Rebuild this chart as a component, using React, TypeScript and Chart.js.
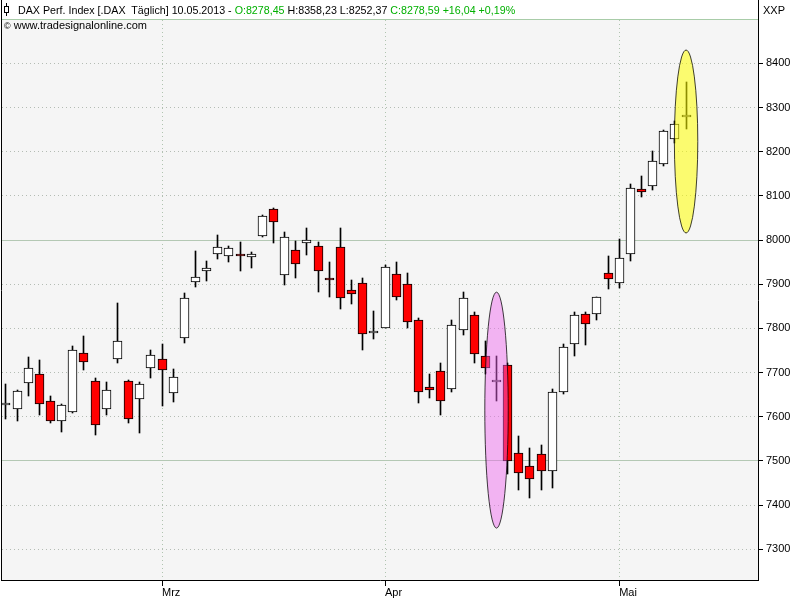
import React, { useEffect, useRef } from 'react';
import { Chart, registerables } from 'chart.js';

Chart.register(...registerables);

const dates = [
  '2013-02-11', '2013-02-12', '2013-02-13', '2013-02-14', '2013-02-15',
  '2013-02-18', '2013-02-19', '2013-02-20', '2013-02-21', '2013-02-22',
  '2013-02-25', '2013-02-26', '2013-02-27', '2013-02-28',
  '2013-03-01', '2013-03-04', '2013-03-05', '2013-03-06', '2013-03-07', '2013-03-08',
  '2013-03-11', '2013-03-12', '2013-03-13', '2013-03-14', '2013-03-15',
  '2013-03-18', '2013-03-19', '2013-03-20', '2013-03-21', '2013-03-22',
  '2013-03-25', '2013-03-26', '2013-03-27', '2013-03-28',
  '2013-04-02', '2013-04-03', '2013-04-04', '2013-04-05',
  '2013-04-08', '2013-04-09', '2013-04-10', '2013-04-11', '2013-04-12',
  '2013-04-15', '2013-04-16', '2013-04-17', '2013-04-18', '2013-04-19',
  '2013-04-22', '2013-04-23', '2013-04-24', '2013-04-25', '2013-04-26',
  '2013-04-29', '2013-04-30',
  '2013-05-02', '2013-05-03', '2013-05-06', '2013-05-07', '2013-05-08', '2013-05-09', '2013-05-10',
];

const opens = [
  7626, 7617, 7676, 7696, 7635, 7590, 7611, 7744, 7680, 7617, 7730, 7680, 7640, 7710,
  7731, 7653, 7778, 7904, 7931, 7968, 7963, 7968, 7961, 8008, 8070, 7920, 7977, 7993, 7986, 7913,
  7984, 7886, 7902, 7789,
  7802, 7922, 7900, 7818, 7667, 7703, 7662, 7796, 7830, 7737, 7679, 7716, 7517, 7488, 7515, 7477,
  7655, 7764, 7832, 7832, 7925,
  7902, 7968, 8115, 8122, 8171, 8228, 8278.45,
];
const highs = [
  7674, 7661, 7735, 7728, 7647, 7629, 7760, 7783, 7687, 7679, 7857, 7683, 7678, 7751,
  7765, 7708, 7880, 7975, 7952, 8011, 7986, 7996, 7974, 8057, 8072, 8018, 7998, 8027, 7996, 7950,
  8027, 7910, 7914, 7839,
  7943, 7951, 7925, 7823, 7697, 7722, 7818, 7882, 7838, 7771, 7737, 7722, 7556, 7529, 7536, 7663,
  7765, 7836, 7836, 7872, 7964,
  8002, 8127, 8144, 8201, 8249, 8270, 8358.23,
];
const lows = [
  7596, 7591, 7648, 7604, 7586, 7566, 7609, 7706, 7559, 7604, 7722, 7586, 7564, 7688,
  7624, 7634, 7768, 7894, 7908, 7958, 7951, 7931, 7937, 8006, 7993, 7898, 7915, 7967, 7883, 7872,
  7845, 7856, 7752, 7775,
  7800, 7864, 7800, 7630, 7643, 7604, 7657, 7784, 7722, 7696, 7636, 7470, 7434, 7416, 7435, 7439,
  7652, 7738, 7763, 7820, 7890,
  7892, 7953, 8097, 8113, 8168, 8219, 8252.37,
];
const closes = [
  7631, 7658, 7710, 7628, 7591, 7626, 7750, 7725, 7581, 7660, 7771, 7594, 7674, 7739,
  7705, 7689, 7868, 7916, 7936, 7984, 7981, 7963, 7968, 8054, 8040, 8006, 7945, 7999, 7929, 7909,
  7868, 7877, 7787, 7793,
  7940, 7872, 7814, 7655, 7660, 7635, 7807, 7868, 7741, 7710, 7680, 7500, 7472, 7458, 7477, 7655,
  7757, 7830, 7811, 7870, 7911,
  7959, 8117, 8108, 8178, 8246, 8262.55, 8278.59,
];

const priceTicks = [7300, 7400, 7500, 7600, 7700, 7800, 7900, 8000, 8100, 8200, 8300, 8400];
const solidGridLevels = [7500, 8000];
const monthNames = ['Jan', 'Feb', 'Mrz', 'Apr', 'Mai', 'Jun', 'Jul', 'Aug', 'Sep', 'Okt', 'Nov', 'Dez'];

// highlighted candles (ellipse markers): candle index and price extent
const markedCandles = [44, 61];
const markTops = [7882, 8430];
const markBottoms = [7348, 8016];

const FONT = "'Liberation Sans', Arial, Helvetica, sans-serif";
const MARK_FILLS = ['rgba(240,100,240,0.45)', 'rgba(255,255,0,0.55)'];
const GREEN = '#00b000';

const monthTicks: number[] = [];
const monthTickLabels: Record<number, string> = {};
dates.forEach((d, i) => {
  if (i > 0 && d.slice(5, 7) !== dates[i - 1].slice(5, 7)) {
    monthTicks.push(i);
    monthTickLabels[i] = monthNames[parseInt(d.slice(5, 7), 10) - 1];
  }
});

const fmt = (v: number) => v.toFixed(2).replace('.', ',');
const n = closes.length;
const lastDate = dates[n - 1].split('-').reverse().join('.');
const chg = closes[n - 1] - closes[n - 2];
const pct = (chg / closes[n - 2]) * 100;
const sign = (v: number) => (v >= 0 ? '+' : '');

const framePlugin = {
  id: 'frame',
  beforeDraw(chart: any) {
    const { ctx, chartArea: a, width, height } = chart;
    ctx.save();
    ctx.fillStyle = '#ffffff';
    ctx.fillRect(0, 0, width, height);
    ctx.fillStyle = '#f5f5f5';
    ctx.fillRect(a.left, a.top, a.right - a.left, a.bottom - a.top);
    ctx.strokeStyle = '#a8cca8';
    ctx.lineWidth = 1;
    ctx.beginPath();
    ctx.moveTo(a.left, a.top - 0.5);
    ctx.lineTo(a.right, a.top - 0.5);
    ctx.stroke();
    ctx.restore();
  },
  afterDraw(chart: any) {
    const { ctx, chartArea: a } = chart;
    ctx.save();
    ctx.strokeStyle = '#000';
    ctx.lineWidth = 1;
    ctx.beginPath();
    ctx.moveTo(a.left - 0.5, 0);
    ctx.lineTo(a.left - 0.5, a.bottom + 1);
    ctx.moveTo(a.right + 0.5, 0);
    ctx.lineTo(a.right + 0.5, a.top + 1);
    ctx.stroke();
    ctx.restore();
  },
};

const snapPlugin = {
  id: 'snap',
  beforeDatasetsDraw(chart: any) {
    chart.data.datasets.forEach((_: any, di: number) => {
      chart.getDatasetMeta(di).data.forEach((el: any) => {
        el.x = Math.floor(el.x) + 0.5;
        el.y = Math.round(el.y);
        el.base = Math.round(el.base);
      });
    });
  },
};

const markPlugin = {
  id: 'marks',
  afterDatasetsDraw(chart: any) {
    const { ctx } = chart;
    const xs = chart.scales.x;
    const ys = chart.scales.y;
    ctx.save();
    markedCandles.forEach((idx, k) => {
      const cx = xs.getPixelForValue(idx);
      const rx = (xs.getPixelForValue(idx + 1) - cx) * 1.05;
      const top = ys.getPixelForValue(markTops[k]);
      const bot = ys.getPixelForValue(markBottoms[k]);
      ctx.beginPath();
      ctx.ellipse(cx, (top + bot) / 2, rx, (bot - top) / 2, 0, 0, Math.PI * 2);
      ctx.fillStyle = MARK_FILLS[k % MARK_FILLS.length];
      ctx.fill();
      ctx.strokeStyle = 'rgba(0,0,0,0.75)';
      ctx.lineWidth = 1;
      ctx.stroke();
    });
    ctx.restore();
  },
};

export default function App() {
  const ref = useRef<HTMLCanvasElement>(null);

  useEffect(() => {
    if (!ref.current) return;
    const chart = new Chart(ref.current, {
      type: 'bar',
      data: {
        datasets: [
          {
            label: 'body',
            data: opens.map((o, i) => ({ x: i, y: [o, closes[i]] })) as any,
            backgroundColor: opens.map((o, i) => (closes[i] >= o ? '#ffffff' : '#ff0000')),
            borderColor: '#000000',
            borderWidth: 1,
            borderSkipped: false,
            barThickness: 9,
            minBarLength: 2,
            grouped: false,
            order: 0,
          } as any,
          {
            label: 'wick',
            data: lows.map((l, i) => ({ x: i, y: [l, highs[i]] })) as any,
            backgroundColor: '#000000',
            borderWidth: 0,
            barThickness: 1,
            grouped: false,
            order: 1,
          } as any,
        ],
      },
      options: {
        responsive: false,
        animation: false,
        layout: { padding: { left: 2, top: 20, right: 0, bottom: 0 } },
        plugins: {
          legend: { display: false },
          tooltip: { enabled: false },
          title: { display: false },
        },
        scales: {
          x: {
            type: 'linear',
            position: 'bottom',
            offset: false,
            min: -0.35,
            max: 67.45,
            afterBuildTicks: (s: any) => {
              s.ticks = monthTicks.map((v) => ({ value: v }));
            },
            afterFit: (s: any) => {
              s.height = 20;
            },
            ticks: {
              autoSkip: false,
              maxRotation: 0,
              align: 'start',
              padding: 0,
              color: '#000',
              font: { family: FONT, size: 11 },
              callback: (v: any) => monthTickLabels[v as number] ?? '',
            },
            grid: {
              offset: false,
              color: '#b0c4b0',
              lineWidth: 1,
              drawTicks: true,
              tickLength: 6,
              tickColor: '#000',
            },
            border: { display: true, color: '#000', width: 1, dash: [1, 3] },
          } as any,
          y: {
            type: 'linear',
            position: 'right',
            min: 7230.5,
            max: 8498,
            afterBuildTicks: (s: any) => {
              s.ticks = priceTicks.map((v) => ({ value: v }));
            },
            afterFit: (s: any) => {
              s.width = 42;
            },
            ticks: {
              padding: 3,
              color: '#000',
              font: { family: FONT, size: 11 },
              callback: (v: any) => String(v),
            },
            grid: {
              color: (c: any) =>
                c.tick && solidGridLevels.includes(c.tick.value) ? '#b4c8b4' : '#b4bcb4',
              lineWidth: 1,
              drawTicks: true,
              tickLength: 5,
              tickColor: '#000',
            },
            border: {
              display: true,
              color: '#000',
              width: 1,
              dash: (c: any) => (c.tick && solidGridLevels.includes(c.tick.value) ? [] : [1, 3]),
            },
          } as any,
        },
      } as any,
      plugins: [framePlugin, snapPlugin, markPlugin],
    });
    return () => chart.destroy();
  }, []);

  const textStyle: React.CSSProperties = {
    position: 'absolute',
    font: `11px ${FONT}`,
    lineHeight: '13px',
    whiteSpace: 'pre',
    color: '#000',
    pointerEvents: 'none',
  };

  return (
    <div style={{ position: 'absolute', left: 0, top: 0, width: 800, height: 600, background: '#fff' }}>
      <canvas
        ref={ref}
        width={800}
        height={600}
        style={{ position: 'absolute', left: 0, top: 0, width: 800, height: 600 }}
      />
      <div style={{ position: 'absolute', left: 6, top: 3, width: 1, height: 13, background: '#000' }} />
      <div
        style={{
          position: 'absolute',
          left: 4,
          top: 6,
          width: 3,
          height: 5,
          border: '1px solid #000',
          background: '#fff',
        }}
      />
      <div style={{ ...textStyle, left: 18, top: 4, fontSize: 10.7 }}>
        <span>{`DAX Perf. Index [.DAX  Täglich] ${lastDate} - `}</span>
        <span style={{ color: GREEN }}>{`O:${fmt(opens[n - 1])}`}</span>
        <span>{` H:${fmt(highs[n - 1])} L:${fmt(lows[n - 1])} `}</span>
        <span style={{ color: GREEN }}>{`C:${fmt(closes[n - 1])} ${sign(chg)}${fmt(chg)} ${sign(pct)}${fmt(pct)}%`}</span>
      </div>
      <div style={{ ...textStyle, left: 4, top: 19 }}>
        <span style={{ fontSize: 9 }}>©</span>
        <span> www.tradesignalonline.com</span>
      </div>
      <div style={{ ...textStyle, left: 763, top: 4 }}>XXP</div>
    </div>
  );
}
